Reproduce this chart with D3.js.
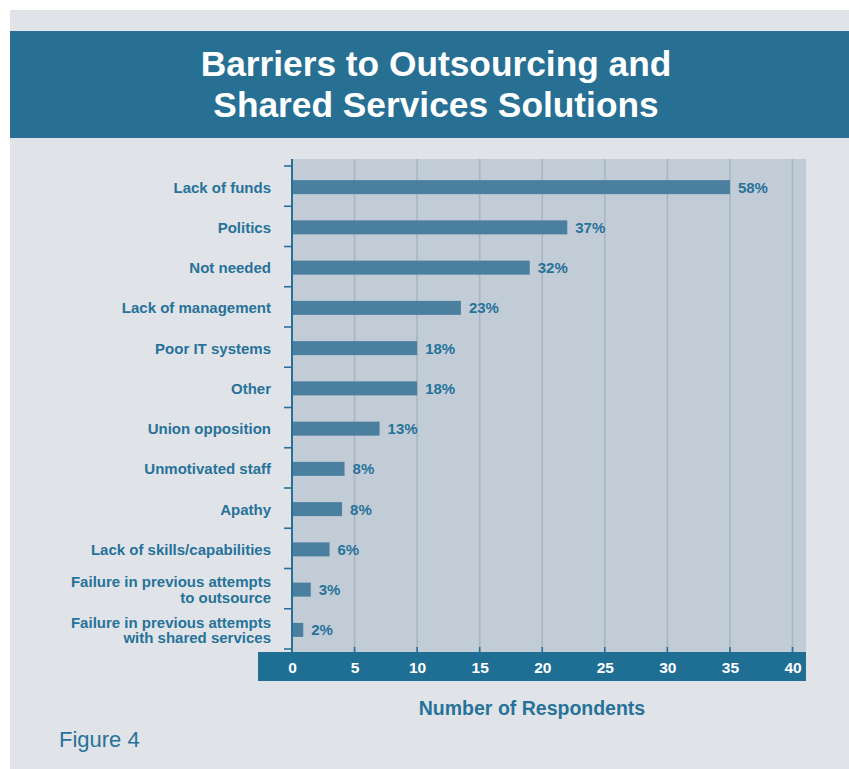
<!DOCTYPE html>
<html>
<head>
<meta charset="utf-8">
<script src="https://cdn.jsdelivr.net/npm/d3@7"></script>
<style>
  html, body { margin: 0; padding: 0; background: #ffffff; }
  svg { display: block; }
  text { font-family: "Liberation Sans", Arial, Helvetica, sans-serif; }
</style>
</head>
<body>
<svg id="chart" width="849" height="769"></svg>
<script>
// Survey results: barriers to outsourcing / shared services
const titleLines = ["Barriers to Outsourcing and", "Shared Services Solutions"];
const categories = [
  ["Lack of funds"],
  ["Politics"],
  ["Not needed"],
  ["Lack of management"],
  ["Poor IT systems"],
  ["Other"],
  ["Union opposition"],
  ["Unmotivated staff"],
  ["Apathy"],
  ["Lack of skills/capabilities"],
  ["Failure in previous attempts", "to outsource"],
  ["Failure in previous attempts", "with shared services"]
];
const respondents = [35, 22, 19, 13.5, 10, 10, 7, 4.2, 4, 3, 1.5, 0.9];
const percentLabels = ["58%", "37%", "32%", "23%", "18%", "18%", "13%", "8%", "8%", "6%", "3%", "2%"];
const xTicks = [0, 5, 10, 15, 20, 25, 30, 35, 40];
const xAxisTitle = "Number of Respondents";
const figureLabel = "Figure 4";

const C = {
  panel: "#e0e4e8",
  titleBand: "#277093",
  axisBand: "#1f6f94",
  plot: "#c2ccd6",
  grid: "#a9b5c0",
  bar: "#4a7f9f",
  text: "#27729a",
  axisLine: "#2a6f95"
};

const svg = d3.select("#chart");

// outer panel
svg.append("rect").attr("x", 10).attr("y", 10).attr("width", 839).attr("height", 759).attr("fill", C.panel);

// title band
svg.append("rect").attr("x", 10).attr("y", 31).attr("width", 839).attr("height", 107).attr("fill", C.titleBand);
svg.append("g").selectAll("text").data(titleLines).join("text")
  .attr("x", 436).attr("y", (d, i) => 76 + i * 41)
  .attr("text-anchor", "middle")
  .attr("fill", "#ffffff").attr("font-weight", "bold").attr("font-size", 35.3)
  .text(d => d);

// plot geometry
const plot = { left: 292, right: 806, top: 159, bottom: 652 };
const x = d3.scaleLinear().domain([0, 40]).range([292, 792.5]);
const idx = d3.range(categories.length);
const y = d3.scaleBand().domain(idx).range([167, 650]).paddingInner(0).paddingOuter(0);
const barH = 14;

// plot background
svg.append("rect").attr("x", plot.left).attr("y", plot.top)
  .attr("width", plot.right - plot.left).attr("height", plot.bottom - plot.top)
  .attr("fill", C.plot);

// vertical gridlines
svg.append("g").selectAll("line").data(xTicks.filter(t => t > 0)).join("line")
  .attr("x1", d => x(d)).attr("x2", d => x(d))
  .attr("y1", plot.top).attr("y2", plot.bottom)
  .attr("stroke", C.grid).attr("stroke-width", 1.6);

// bars
svg.append("g").selectAll("rect").data(idx).join("rect")
  .attr("x", x(0))
  .attr("y", i => y(i) + y.bandwidth() / 2 - barH / 2)
  .attr("width", i => x(respondents[i]) - x(0))
  .attr("height", barH)
  .attr("fill", C.bar);

// value labels
svg.append("g").selectAll("text").data(idx).join("text")
  .attr("x", i => x(respondents[i]) + 8)
  .attr("y", i => y(i) + y.bandwidth() / 2 + 5.5)
  .attr("fill", C.text).attr("font-weight", "bold").attr("font-size", 15)
  .text(i => percentLabels[i]);

// x-axis band with tick labels
svg.append("rect").attr("x", 258).attr("y", plot.bottom).attr("width", 806 - 258).attr("height", 29).attr("fill", C.axisBand);
const xAxis = d3.axisBottom(x).tickValues(xTicks).tickSize(0).tickPadding(0);
const gx = svg.append("g").attr("transform", `translate(0,${plot.bottom})`).call(xAxis);
gx.select(".domain").remove();
gx.selectAll("text")
  .attr("y", 20.5).attr("dy", null)
  .attr("fill", "#ffffff").attr("font-weight", "bold").attr("font-size", 15.5)
  .attr("font-family", "\"Liberation Sans\", Arial, Helvetica, sans-serif");
// small tick marks rising from the band
svg.append("g").selectAll("line").data(xTicks.filter(t => t > 0)).join("line")
  .attr("x1", d => x(d)).attr("x2", d => x(d))
  .attr("y1", plot.bottom - 5).attr("y2", plot.bottom)
  .attr("stroke", C.axisLine).attr("stroke-width", 1.6);

// left axis: line plus boundary ticks between categories
const boundaries = idx.map(i => y(i)).concat([y.range()[1]]);
svg.append("line").attr("x1", 292).attr("x2", 292).attr("y1", plot.top).attr("y2", plot.bottom)
  .attr("stroke", C.axisLine).attr("stroke-width", 2);
svg.append("g").selectAll("line").data(boundaries).join("line")
  .attr("x1", 284).attr("x2", 292)
  .attr("y1", d => d - 1).attr("y2", d => d - 1)
  .attr("stroke", C.axisLine).attr("stroke-width", 1.6);

// category labels
const labels = svg.append("g").selectAll("text").data(idx).join("text")
  .attr("text-anchor", "end")
  .attr("fill", C.text).attr("font-weight", "bold").attr("font-size", 15);
labels.each(function (i) {
  const lines = categories[i];
  const cy = y(i) + y.bandwidth() / 2;
  const lh = 15.5;
  const first = cy + 5.5 - (lines.length - 1) * lh / 2;
  d3.select(this).selectAll("tspan").data(lines).join("tspan")
    .attr("x", 271).attr("y", (d, k) => first + k * lh)
    .text(d => d);
});

// axis title
svg.append("text").attr("x", 532).attr("y", 715).attr("text-anchor", "middle")
  .attr("fill", C.text).attr("font-weight", "bold").attr("font-size", 19.5)
  .text(xAxisTitle);

// figure caption
svg.append("text").attr("x", 59).attr("y", 747)
  .attr("fill", C.text).attr("font-size", 22)
  .text(figureLabel);
</script>
</body>
</html>
